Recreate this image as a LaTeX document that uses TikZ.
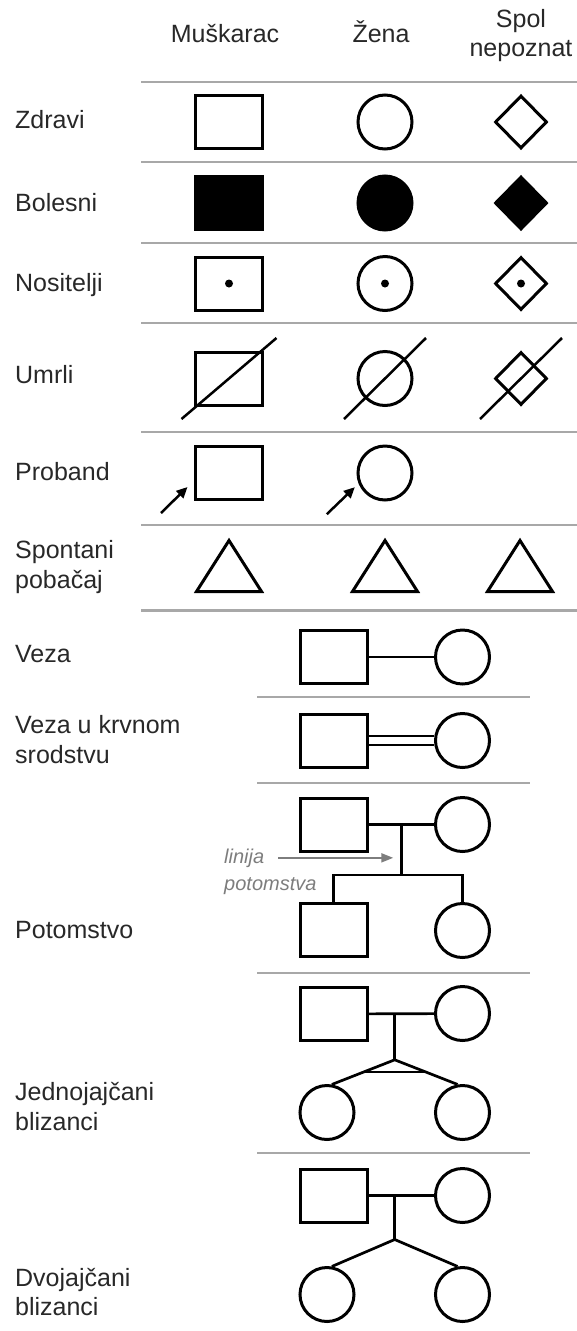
\documentclass[tikz,border=0pt]{standalone}
\usepackage{fontspec}
\setmainfont{Liberation Sans}
\usetikzlibrary{arrows.meta,positioning,calc,shapes.geometric}
\definecolor{sivalin}{RGB}{168,168,168}
\definecolor{sivtxt}{RGB}{125,125,125}
\definecolor{tekst}{RGB}{40,40,40}
\tikzset{
  kvad/.style={rectangle,draw,line width=3pt,minimum width=67pt,minimum height=53pt,inner sep=0pt},
  krug/.style={circle,draw,line width=3pt,minimum size=54pt,inner sep=0pt},
  romb/.style={diamond,draw,line width=3pt,minimum width=52pt,minimum height=53pt,inner sep=0pt},
  bol/.style={fill=black},
  nos/.style={circle,fill=black,inner sep=0pt,minimum size=8pt},
  trok/.style={line width=3pt,line join=miter},
  crta/.style={draw=sivalin,line width=2pt},
  veza/.style={line width=2.7pt},
  umr/.style={line width=2.5pt},
  strelica/.style={line width=2.5pt,-{Triangle[length=11pt,width=10pt]}},
  sivastr/.style={draw=sivtxt,line width=2pt,-{Triangle[length=12pt,width=9pt]}},
  oznaka/.style={anchor=base west,inner sep=0pt,text=tekst},
  glava/.style={anchor=base,inner sep=0pt,text=tekst},
  kurziv/.style={anchor=base west,inner sep=0pt,text=sivtxt,font=\fontsize{20}{22}\selectfont\itshape},
}
\begin{document}
\begin{tikzpicture}[x=1pt,y=-1pt,font=\fontsize{25}{28}\selectfont]
  \useasboundingbox (0,0) rectangle (577,1331);
  \node[glava] (hm) at (225,42) {Muškarac};
  \node[glava] (hz) at (381,42) {Žena};
  \node[glava] (hn1) at (521,27) {Spol};
  \node[glava] (hn2) at (521,56) {nepoznat};
  \foreach \y in {82,162,243,323,432,525} \draw[crta] (141,\y) -- (577,\y);
  \draw[crta,line width=3pt] (141,610) -- (577,610);
  \foreach \y in {697,783,973,1153} \draw[crta] (257,\y) -- (530,\y);

  \node[oznaka] (l1) at (15,128) {Zdravi};
  \node[kvad] (zm) at (229,122) {};
  \node[krug] (zz) at (385,122) {};
  \node[romb] (zn) at (521,122) {};

  \node[oznaka] (l2) at (15,211) {Bolesni};
  \node[kvad,bol] (bm) at (229,203) {};
  \node[krug,bol] (bz) at (385,203) {};
  \node[romb,bol] (bn) at (521,203) {};

  \node[oznaka] (l3) at (15,291) {Nositelji};
  \node[kvad] (nm) at (229,283.5) {}; \node[nos] (nmt) at (nm) {};
  \node[krug] (nz) at (385,283.5) {}; \node[nos] (nzt) at (nz) {};
  \node[romb] (nn) at (521,283.5) {}; \node[nos] (nnt) at (nn) {};

  \node[oznaka] (l4) at (15,383) {Umrli};
  \node[kvad] (um) at (229,378.5) {};
  \node[krug] (uz) at (385,378.5) {};
  \node[romb] (un) at (521,378.5) {};
  \draw[umr] ([shift={(-47.5,40.5)}]um.center) -- ([shift={(47.5,-40.5)}]um.center);
  \draw[umr] ([shift={(-41,40.5)}]uz.center) -- ([shift={(41,-40.5)}]uz.center);
  \draw[umr] ([shift={(-41,40.5)}]un.center) -- ([shift={(41,-40.5)}]un.center);

  \node[oznaka] (l5) at (15,480) {Proband};
  \node[kvad] (pm) at (229,473) {};
  \node[krug] (pz) at (385,473) {};
  \coordinate (pmr) at ([shift={(-33,12)}]pm.south west);
  \coordinate (pzr) at ([shift={(-38,21)}]pz.south west);
  \draw[strelica] (pmr) -- ([shift={(-6.5,-14)}]pm.south west);
  \draw[strelica] (pzr) -- ([shift={(-10,-6)}]pz.south west);

  \node[oznaka] (l6a) at (15,558) {Spontani};
  \node[oznaka] (l6b) at (15,588) {pobačaj};
  \foreach \x in {229,385,520}
    \draw[trok] ({\x-32.5},591.5) -- (\x,540.5) -- ({\x+32.5},591.5) -- cycle;

  \node[oznaka] (l7) at (15,662) {Veza};
  \node[kvad] (vm) at (333.5,657) {};
  \node[krug] (vz) at (462.5,657) {};
  \draw[line width=2pt] (vm) -- (vz);

  \node[oznaka] (l8a) at (15,733) {Veza u krvnom};
  \node[oznaka] (l8b) at (15,763) {srodstvu};
  \node[kvad] (km) at (333.5,740.5) {};
  \node[krug] (kz) at (462.5,740.5) {};
  \draw[line width=2.5pt,double,double distance=6.5pt] (km) -- (kz);

  \node[oznaka] (l9) at (15,938) {Potomstvo};
  \node[kvad] (pom) at (333.5,824.5) {};
  \node[krug] (poz) at (462.5,824.5) {};
  \node[kvad] (pdm) at (333.5,930) {};
  \node[krug] (pdz) at (462.5,930.5) {};
  \draw[veza] (pom) -- (poz);
  \coordinate (po) at ($(pom.east)!0.5!(poz.west)$);
  \draw[veza] (po) -- ++(0,50.5) coordinate (pos);
  \draw[veza] (pdm.north) |- (pos) -| (pdz.north);
  \node[kurziv] (lin) at (224,863) {linija};
  \node[kurziv] (pot) at (224,890) {potomstva};
  \draw[sivastr,shorten >=8pt] ([xshift=14pt]lin.east) -- (po |- lin.east);

  \node[oznaka] (l10a) at (15,1100) {Jednojajčani};
  \node[oznaka] (l10b) at (15,1130) {blizanci};
  \node[kvad] (jm) at (333.5,1014) {};
  \node[krug] (jz) at (462.5,1013.5) {};
  \node[krug] (jd1) at (327,1112.5) {};
  \node[krug] (jd2) at (462.5,1112.5) {};
  \draw[veza] (jm) -- (jz);
  \coordinate (jo) at ($(jm.east)!0.4!(jz.west)$);
  \draw[veza] (jo) -- ++(0,46) coordinate (jv);
  \draw[veza] (jd1.80) -- (jv) -- (jd2.100);
  \draw[veza] ($(jv)!0.5!(jd1.80)$) -- ($(jv)!0.5!(jd2.100)$);

  \node[oznaka] (l11a) at (15,1286) {Dvojajčani};
  \node[oznaka] (l11b) at (15,1315) {blizanci};
  \node[kvad] (dm) at (333.5,1195.5) {};
  \node[krug] (dz) at (462.5,1195.5) {};
  \node[krug] (dd1) at (327,1294.5) {};
  \node[krug] (dd2) at (462.5,1294.5) {};
  \draw[veza] (dm) -- (dz);
  \coordinate (do) at ($(dm.east)!0.4!(dz.west)$);
  \draw[veza] (do) -- ++(0,44) coordinate (dv);
  \draw[veza] (dd1.80) -- (dv) -- (dd2.100);
\end{tikzpicture}
\end{document}
